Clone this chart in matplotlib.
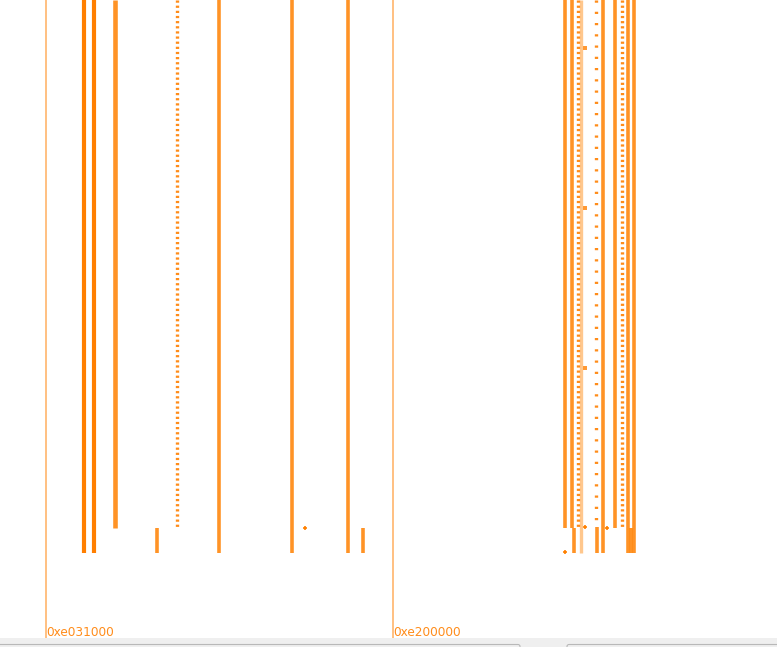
import matplotlib
matplotlib.use("Agg")
import matplotlib.pyplot as plt
from matplotlib.patches import Rectangle, FancyBboxPatch

plt.rcParams['lines.scale_dashes'] = False

W, H = 777, 647

# region dividers (screen position, address label)
region_x = [46, 393]
region_labels = ['0xe031000', '0xe200000']

# access columns: position, top, bottom, kind
col_x = [84, 94, 115, 157, 177, 219, 292, 348, 363,
         565, 572, 574, 578, 581, 596, 597, 603, 615, 622, 628, 631, 634]
col_top = [0, 0, 0, 528, 0, 0, 0, 0, 528,
           0, 0, 528, 0, 0, 0, 527, 0, 0, 0, 0, 528, 0]
col_bottom = [553, 553, 528, 553, 528, 553, 553, 553, 553,
              528, 528, 553, 528, 553, 527, 553, 553, 528, 528, 553, 553, 553]
col_kind = ['solid', 'solid', 'wide', 'dense', 'sparse', 'dense', 'dense', 'dense', 'dense',
            'dense', 'dense', 'dense', 'sparse', 'light', 'rare', 'dense', 'dense', 'dense',
            'sparse', 'dense', 'dense', 'dense']

# single hits
dot_x = [305, 565, 585, 607]
dot_y = [528, 552, 527, 528]
# short bursts
burst_x = [585, 585, 585]
burst_y = [48, 208, 368]

styles = {
    'solid': dict(color='#ff7f00', lw=3.0, alpha=1.0, ls='-'),
    'wide': dict(color='#ff8000', lw=3.3, alpha=0.85, ls='-'),
    'dense': dict(color='#ff8000', lw=2.6, alpha=0.85, ls='-'),
    'light': dict(color='#ff9a30', lw=2.4, alpha=0.55, ls='-'),
    'sparse': dict(color='#ff8000', lw=2.4, alpha=0.9, ls=(0, (1.6, 2.1))),
    'rare': dict(color='#ff8000', lw=2.4, alpha=0.9, ls=(0, (1.6, 6.5))),
}

fig = plt.figure(figsize=(W / 100, H / 100), dpi=100)
ax = fig.add_axes([0, 0, 1, 1])
ax.set_xlim(0, W)
ax.set_ylim(H, 0)
ax.axis('off')

for x, lab in zip(region_x, region_labels):
    ax.vlines(x, 0, 638, color='#ffbb77', lw=1.3)
    ax.text(x, 639, lab, color='#ff8c1a', fontsize=8.7, ha='left', va='bottom',
            family='DejaVu Sans')

for x, y0, y1, k in zip(col_x, col_top, col_bottom, col_kind):
    s = styles[k]
    ax.plot([x, x], [y0, y1], color=s['color'], lw=s['lw'], alpha=s['alpha'],
            ls=s['ls'], solid_capstyle='butt', dash_capstyle='butt')

ax.scatter(dot_x, dot_y, marker='+', s=12, color='#ff8000', linewidths=1.2)
ax.scatter(burst_x, burst_y, marker='s', s=10, color='#ff8000', alpha=0.8,
           linewidths=0)

# bottom scrollbar strip
ax.add_patch(Rectangle((0, 638), W, 9, facecolor='#efefef', edgecolor='none'))
ax.add_patch(FancyBboxPatch((-6, 644.5), 526, 8, boxstyle='round,pad=0,rounding_size=2',
                            facecolor='#efefef', edgecolor='#b8b8b8', lw=0.8))
ax.add_patch(FancyBboxPatch((567, 644.5), 216, 8, boxstyle='round,pad=0,rounding_size=2',
                            facecolor='#efefef', edgecolor='#b8b8b8', lw=0.8))

fig.savefig('out.png', dpi=100)
